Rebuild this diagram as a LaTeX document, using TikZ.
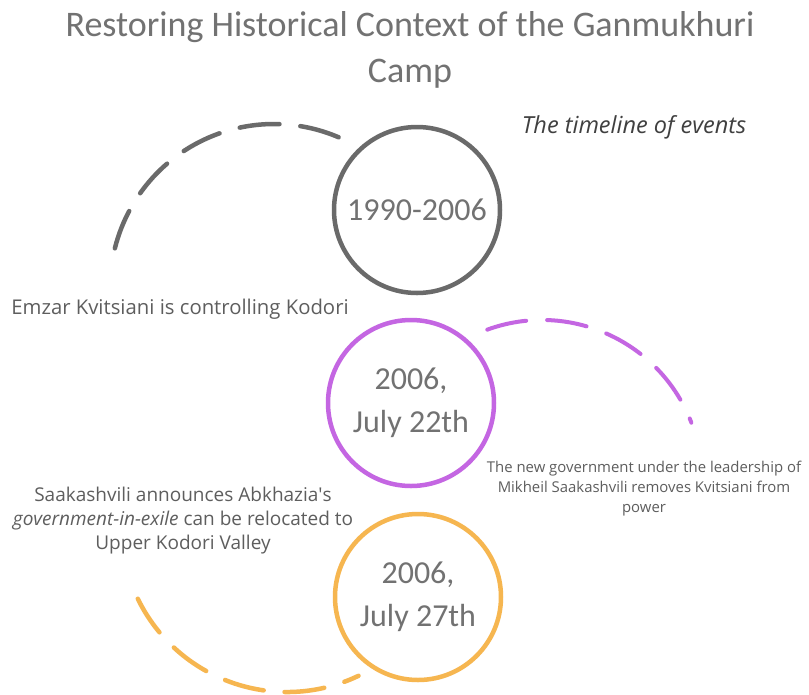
\documentclass[tikz,border=0pt]{standalone}
\usepackage{fontspec}
\setmainfont{Open Sans}
\newfontfamily\datefont{Carlito}
\definecolor{ggray}{HTML}{6A6A6A}
\definecolor{gpurple}{HTML}{C466E2}
\definecolor{gorange}{HTML}{F6B650}
\definecolor{tgray}{HTML}{5E5E5E}
\definecolor{lgray}{HTML}{727272}
\tikzstyle{year}=[circle,line width=4.5pt,minimum size=166pt,inner sep=0pt,
align=center,text=lgray,font=\datefont\fontsize{32}{43}\selectfont]
\tikzstyle{track}=[line width=4.5pt,line cap=round,dash pattern=on 40pt off 21pt]
\tikzstyle{note}=[text=tgray,align=center,inner sep=0pt]
\usetikzlibrary{positioning}

\begin{document}
\begin{tikzpicture}[x=1pt,y=1pt]
            \useasboundingbox[fill=white] (0,0) rectangle (809,-694);

            % HEADING PART

            \node[note,text=lgray,font=\datefont\fontsize{36}{46}\selectfont] (title) at (410,-50) {Restoring Historical Context of the Ganmukhuri\\Camp};
            \node[note,font=\itshape\fontsize{23.5}{28}\selectfont,text=black!75] (sub) at (634,-127) {The timeline of events};

            % 1990-2006 PART

            \node[year,draw=ggray] (y1) at (417,-210) {1990-2006};
            \node[note,font=\fontsize{20.3}{24}\selectfont] (n1) at (180,-309) {Emzar Kvitsiani is controlling Kodori};
            \draw[track,ggray] (274,-288) ++(166:164) arc[start angle=166,end angle=64,radius=164];

            % JULY 22 PART

            \node[year,draw=gpurple] (y2) at (411,-403) {2006,\\July 22th};
            \node[note,font=\fontsize{14.9}{20}\selectfont] (n2) at (644,-489) {The new government under the leadership of\\Mikheil Saakashvili removes Kvitsiani from\\power};
            \draw[track,gpurple,line width=4pt] (542,-480) ++(110:160) arc[start angle=110,end angle=21,radius=160];

            % JULY 27 PART

            \node[year,draw=gorange] (y3) at (418,-597) {2006,\\July 27th};
            \node[note,font=\fontsize{19}{24}\selectfont] (n3) at (183,-521) {Saakashvili announces Abkhazia\textquotesingle s\\\textit{government-in-exile} can be relocated to\\Upper Kodori Valley};
            \draw[track,gorange] (287,-526) ++(206:166) arc[start angle=206,end angle=295.5,radius=166];

\end{tikzpicture}
\end{document}
